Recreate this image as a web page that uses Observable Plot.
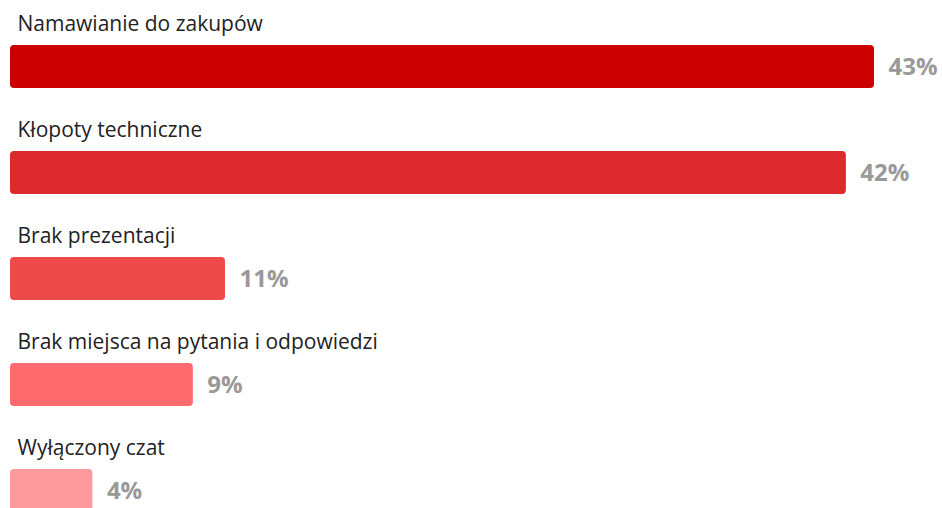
<!DOCTYPE html>
<html><head><meta charset="utf-8">
<script src="https://cdn.jsdelivr.net/npm/d3@7"></script>
<script src="https://cdn.jsdelivr.net/npm/@observablehq/plot@0.6"></script>
<style>
html,body{margin:0;padding:0;background:#fff;overflow:hidden;}
#chart svg{display:block;}
</style>
</head><body><div id="chart"></div>
<script>
const categories = ["Namawianie do zakupów","Kłopoty techniczne","Brak prezentacji","Brak miejsca na pytania i odpowiedzi","Wyłączony czat"];
// bar lengths (labels show rounded percentages)
const values = [43, 41.6, 10.7, 9.1, 4.1];
const valueLabels = ["43%","42%","11%","9%","4%"];
const colors = ["#cc0000","#dc2a2e","#ee4a4c","#fd6b6e","#ff9a9c"];

const data = categories.map((c,i)=>({category:c, value:values[i], label:valueLabels[i], color:colors[i]}));

const chart = Plot.plot({
  width: 942, height: 508,
  marginLeft: 0, marginRight: 0, marginTop: 0, marginBottom: 0,
  style: {fontFamily: "'Open Sans', sans-serif", background: "#fff"},
  x: {domain: [0, 43], range: [10, 874], axis: null},
  y: {domain: categories, range: [45, 513], paddingInner: 0.595, paddingOuter: 0, align: 0, axis: null},
  marks: [
    Plot.barX(data, {x: "value", y: "category", fill: "color", rx: 4}),
    Plot.text(data, {y: "category", text: "category", frameAnchor: "left", dx: 17, dy: -36, textAnchor: "start", lineAnchor: "bottom", fontSize: 21, fill: "#222"}),
    Plot.text(data, {x: "value", y: "category", text: "label", dx: 14, textAnchor: "start", fontSize: 24, fontWeight: "bold", fill: "#999"})
  ]
});
document.getElementById("chart").appendChild(chart);
</script></body></html>
